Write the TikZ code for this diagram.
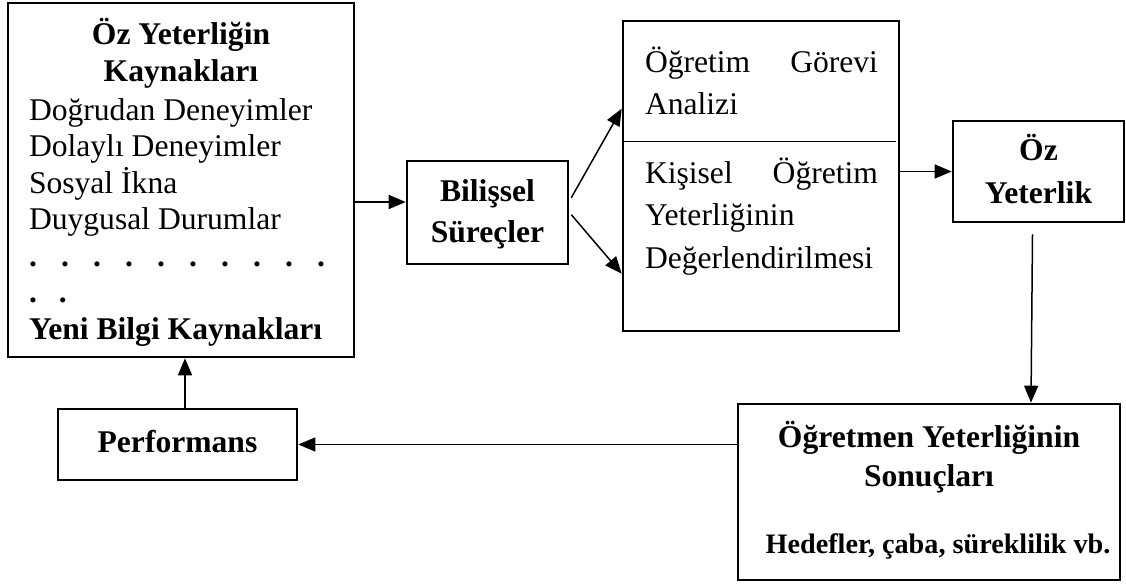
\documentclass[tikz,border=0pt]{standalone}
\usepackage{fontspec}
\setmainfont{Liberation Serif}
\usetikzlibrary{arrows.meta,calc}

% stacked lines with a fixed baseline distance; the box baseline is the first line
\newcommand\stackc[2]{\vtop{\baselineskip=#1\lineskiplimit=-1000pt\lineskip=0pt\relax\halign{\hfil##\hfil\cr#2\crcr}}}
\newcommand\stackl[2]{\vtop{\baselineskip=#1\lineskiplimit=-1000pt\lineskip=0pt\relax\halign{##\hfil\cr#2\crcr}}}

\tikzset{
  box/.style={draw, line width=2.6pt, inner sep=0pt, rectangle},
  txt/.style={inner sep=0pt, outer sep=0pt},
  arr/.style={line width=1.5pt, -{Triangle[length=17pt,width=14pt]}},
  rule/.style={line width=1.4pt}
}

\begin{document}
\begin{tikzpicture}[x=1pt, y=-1pt, font=\fontsize{31.6pt}{36pt}\selectfont]
\useasboundingbox (0,0) rectangle (1126,586);

% boxes
\node[box, minimum width=346pt, minimum height=354pt] (A) at (181,180) {};
\node[box, minimum width=161pt, minimum height=103pt] (B) at (487.5,212.5) {};
\node[box, minimum width=276pt, minimum height=310pt] (C) at (761,176) {};
\node[box, minimum width=171pt, minimum height=101pt] (D) at (1038.5,171.5) {};
\node[box, minimum width=382pt, minimum height=176pt] (E) at (929,492) {};
\node[box, minimum width=239pt, minimum height=71pt] (P) at (177.5,444.5) {};

% sources of self-efficacy
\node[txt, anchor=base] (Atitle) at (181,45)
  {\bfseries\stackc{37pt}{Öz Yeterliğin\cr Kaynakları}};
\node[txt, anchor=base west] (Alist) at (29,120)
  {\stackl{36.5pt}{Doğrudan Deneyimler\cr
    Dolaylı Deneyimler\cr
    Sosyal İkna\cr
    Duygusal Durumlar\cr
    \bfseries\hbox to 296pt{.\hfill.\hfill.\hfill.\hfill.\hfill.\hfill.\hfill.\hfill.\hfill.}\cr
    \bfseries .\kern22pt.\cr
    \textbf{Yeni Bilgi Kaynakları}}};

% cognitive processes
\node[txt, anchor=base] (Btext) at (487.5,201)
  {\bfseries\stackc{41pt}{Bilişsel\cr Süreçler}};

% analysis box with divider
\node[txt, anchor=base west] (C1) at (645,73)
  {\stackl{41pt}{\hbox to 233pt{Öğretim\hfill Görevi}\cr Analizi}};
\node[txt, anchor=base west] (C2) at (645,183)
  {\stackl{42.5pt}{\hbox to 233pt{Kişisel\hfill Öğretim}\cr Yeterliğinin\cr Değerlendirilmesi}};
\draw[rule] ($(C.north west)+(0,122)$) -- ($(C.north east)+(-4,122)$);

% self-efficacy
\node[txt, anchor=base] (Dtext) at (1038.5,160)
  {\bfseries\stackc{43pt}{Öz\cr Yeterlik}};

% consequences
\node[txt, anchor=base] (E1) at (929,447)
  {\bfseries\stackc{39pt}{Öğretmen Yeterliğinin\cr Sonuçları}};
\node[txt, anchor=base] (E2) at (938,553)
  {\bfseries\fontsize{28.2pt}{32pt}\selectfont Hedefler, çaba, süreklilik vb.};

% performance
\node[txt, anchor=base] (Ptext) at (177.5,452) {\bfseries Performans};

% connectors
\coordinate (ab) at ($(B.west)+(0,-10.5)$);
\draw[arr] (A.east |- ab) -- (ab);
\draw[arr] ($(B.north east)+(2,38)$) -- ($(C.north west)+(0,89)$);
\draw[arr] ($(B.north east)+(2,55)$) -- ($(C.north west)+(0,254)$);
\draw[arr] (C.east |- D.west) -- (D.west);
\coordinate (ds) at ($(D.south)+(-6,11)$);
\coordinate (et) at ($(E.north)+(102,0)$);
\draw[arr] (ds) -- (et);
\draw[arr] (E.west |- P.east) -- (P.east);
\coordinate (pn) at ($(P.north)+(7.5,0)$);
\draw[arr] (pn) -- (pn |- A.south);
\end{tikzpicture}
\end{document}
